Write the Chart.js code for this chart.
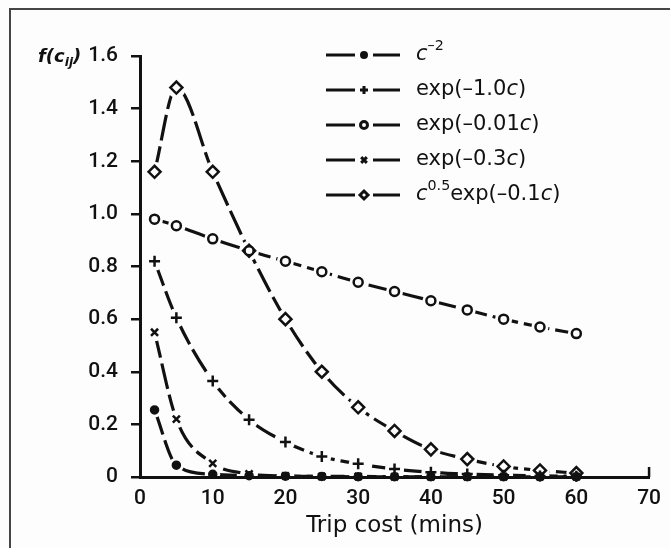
<!DOCTYPE html>
<html>
<head>
<meta charset="utf-8">
<script src="https://cdn.jsdelivr.net/npm/chart.js@4.4.1/dist/chart.umd.min.js"></script>
<style>
  html, body { margin: 0; padding: 0; background: #fdfdfd; overflow: hidden; }
  #wrap { position: relative; width: 670px; height: 548px; }
  #frame { position: absolute; left: 9px; top: 8px; right: -4px; bottom: -10px;
           border-left: 2px solid #454545; border-top: 2px solid #454545; }
  canvas { position: absolute; left: 0; top: 0; }
</style>
</head>
<body>
<div id="wrap"><div id="frame"></div><canvas id="grafica" width="670" height="548"></canvas></div>
<script>
// trip cost (mins) at which each function is plotted
const cost = [2, 5, 10, 15, 20, 25, 30, 35, 40, 45, 50, 55, 60];

// legend texts (^{} superscript, every c italic)
const labels = ['c^{–2}', 'exp(–1.0c)', 'exp(–0.01c)', 'exp(–0.3c)', 'c^{0.5}exp(–0.1c)'];

// values
const powerMinus2 = [0.255, 0.045, 0.01, 0.005, 0.003, 0.002, 0.001, 0.001, 0.001, 0.001, 0.001, 0.001, 0.001];
const expOne      = [0.82, 0.605, 0.365, 0.218, 0.133, 0.078, 0.05, 0.03, 0.018, 0.011, 0.007, 0.004, 0.003];
const expHundredth = [0.98, 0.955, 0.905, 0.86, 0.82, 0.78, 0.74, 0.705, 0.67, 0.635, 0.60, 0.57, 0.545];
const expThree    = [0.55, 0.22, 0.052, 0.012, 0.004, 0.002, 0.002, 0.001, 0.001, 0.001, 0.001, 0.001, 0.001];
const gammaLike   = [1.16, 1.48, 1.16, 0.86, 0.60, 0.40, 0.265, 0.175, 0.105, 0.068, 0.04, 0.025, 0.015];

const xTicks = [0, 10, 20, 30, 40, 50, 60, 70];
const yTicks = [0, 0.2, 0.4, 0.6, 0.8, 1.0, 1.2, 1.4, 1.6];

const series = [powerMinus2, expOne, expHundredth, expThree, gammaLike];
const marks = ['circle', 'cross', 'circle', 'crossRot', 'rectRot'];
const markSize = [3.5, 5.5, 4.5, 5, 6];
const markFill = ['#111', '#fdfdfd', '#fdfdfd', '#fdfdfd', '#fdfdfd'];

const ink = '#111';
const bg = '#fdfdfd';
const tickFont = "Roboto, sans-serif";
const textFont = "'DejaVu Sans', sans-serif";

const datasets = [];
series.forEach((vals, i) => {
  const pts = cost.map((c, k) => ({ x: c, y: vals[k] }));
  // the curve
  datasets.push({
    data: pts, showLine: true, pointRadius: 0, borderColor: ink, borderWidth: 3.2,
    borderDash: [26, 6], cubicInterpolationMode: 'monotone', order: 3
  });
  // white gap round each marker
  datasets.push({
    data: pts, showLine: false, pointRadius: markSize[i] + 4, pointBorderWidth: 0,
    pointBackgroundColor: bg, order: 2, clip: false
  });
  // the marker
  datasets.push({
    data: pts, showLine: false, pointStyle: marks[i], pointRadius: markSize[i],
    pointBorderWidth: 2.5, pointBorderColor: ink, pointBackgroundColor: markFill[i],
    order: 1, clip: false
  });
});

function drawRich(ctx, text, x, y, size, base) {
  const re = /\^\{([^}]*)\}|_\{([^}]*)\}|c|[^c^_]+/g;
  let m;
  while ((m = re.exec(text))) {
    let t = m[0], sz = size, dy = 0, style = base;
    if (m[1] !== undefined) { t = m[1]; sz = size * 0.68; dy = -size * 0.4; }
    else if (m[2] !== undefined) { t = m[2]; sz = size * 0.68; dy = size * 0.3; }
    else if (t === 'c') style = 'italic ' + base;
    ctx.font = style + ' ' + sz + 'px ' + textFont;
    ctx.fillText(t, x, y + dy);
    x += ctx.measureText(t).width;
  }
}

const annotate = {
  id: 'annotate',
  afterDraw(chart) {
    const { ctx, chartArea: a } = chart;
    ctx.save();
    ctx.strokeStyle = ink;
    ctx.fillStyle = ink;
    ctx.lineWidth = 2.5;
    // small upturn at end of x axis
    ctx.beginPath();
    ctx.moveTo(a.right, a.bottom);
    ctx.lineTo(a.right, a.bottom - 10);
    ctx.stroke();

    ctx.textBaseline = 'middle';
    ctx.textAlign = 'left';
    drawRich(ctx, 'f(c_{ij})', 38, 57, 18, 'italic bold');

    // legend
    labels.forEach((lab, i) => {
      const y = 55 + i * 35;
      ctx.lineWidth = 3;
      ctx.setLineDash([]);
      ctx.beginPath();
      ctx.moveTo(326, y); ctx.lineTo(355, y);
      ctx.moveTo(373, y); ctx.lineTo(400, y);
      ctx.stroke();
      ctx.fillStyle = markFill[i];
      ctx.strokeStyle = ink;
      Chart.helpers.drawPoint(ctx, {
        pointStyle: marks[i], radius: Math.min(markSize[i] - 1, 4), rotation: 0, borderWidth: 2
      }, 364, y);
      ctx.fillStyle = ink;
      drawRich(ctx, lab, 416, y, 21, 'normal');
    });
    ctx.restore();
  }
};

const graph = document.querySelector('#grafica');

new Chart(graph, {
  type: 'scatter',
  data: { datasets: datasets },
  options: {
    responsive: false,
    animation: false,
    layout: { padding: { top: 56, right: 18, left: 0, bottom: 0 } },
    plugins: { legend: { display: false }, tooltip: { enabled: false } },
    scales: {
      x: {
        type: 'linear', min: 0, max: 70,
        afterBuildTicks: s => { s.ticks = xTicks.map(v => ({ value: v })); },
        afterFit: s => { s.height = 71; },
        grid: { display: false, drawTicks: false },
        border: { display: true, color: ink, width: 3, z: 1 },
        ticks: { color: ink, padding: 9, maxRotation: 0, font: { family: tickFont, size: 21, weight: '500' } },
        title: { display: true, text: 'Trip cost (mins)', color: ink, padding: { top: 0, bottom: 8 },
                 font: { family: textFont, size: 23 } }
      },
      y: {
        type: 'linear', min: 0, max: 1.6,
        afterBuildTicks: s => { s.ticks = yTicks.map(v => ({ value: v })); },
        afterFit: s => { s.width = 140; },
        grid: { display: true, drawOnChartArea: false, drawTicks: true, tickLength: 9, color: ink, lineWidth: 2.5 },
        border: { display: true, color: ink, width: 3, z: 1 },
        ticks: { color: ink, padding: 13, font: { family: tickFont, size: 21, weight: '500' },
                 callback: v => v === 0 ? '0' : v.toFixed(1) }
      }
    }
  },
  plugins: [annotate]
});
</script>
</body>
</html>
